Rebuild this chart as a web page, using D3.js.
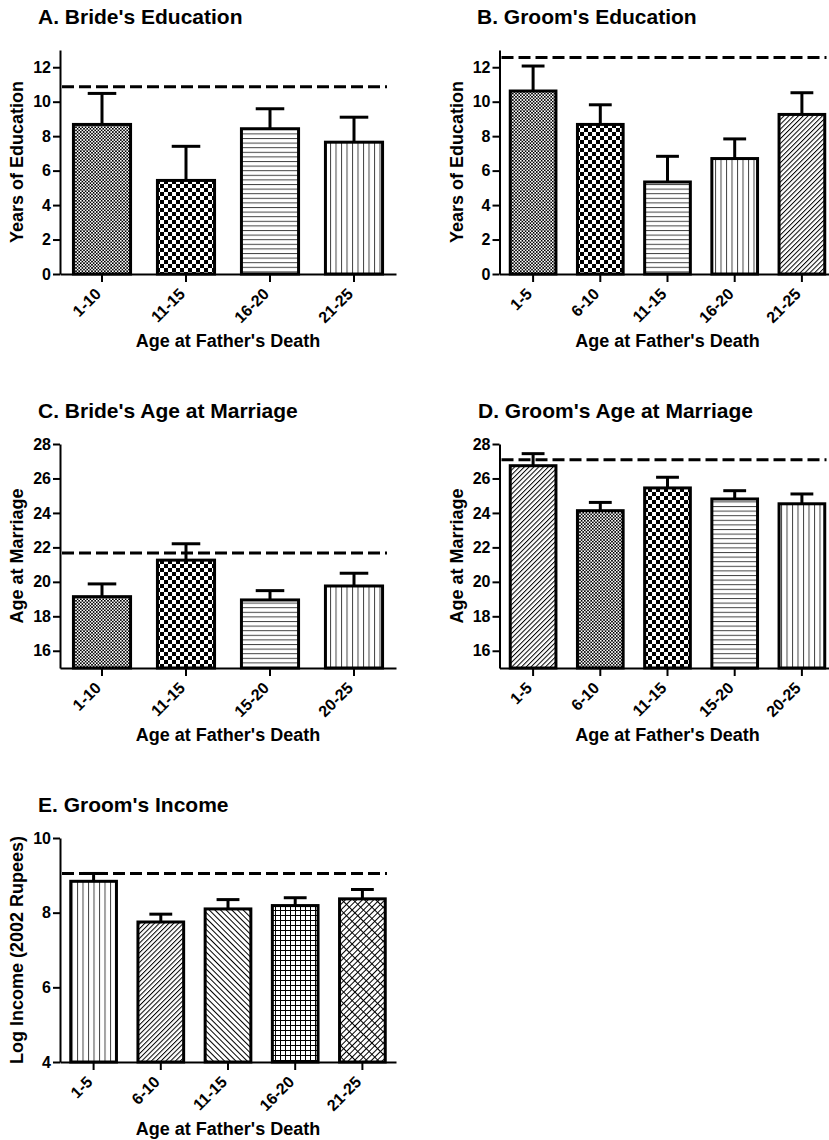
<!DOCTYPE html>
<html>
<head>
<meta charset="utf-8">
<script src="https://cdn.jsdelivr.net/npm/d3@7"></script>
<style>
  body { margin: 0; background: #fff; }
  svg text { font-family: "Liberation Sans", Arial, sans-serif; font-weight: bold; fill: #000; }
</style>
</head>
<body>
<svg id="chart" width="829" height="1140"></svg>
<script>
/* Five bar panels: outcomes by age at father's death, dashed line = comparison mean */

// A. Bride's education
const catsA = ["1-10", "11-15", "16-20", "21-25"];
const meansA = [8.68, 5.43, 8.43, 7.65];
const semA = [1.80, 1.98, 1.16, 1.45];
const refA = 10.86;

// B. Groom's education
const catsB = ["1-5", "6-10", "11-15", "16-20", "21-25"];
const meansB = [10.62, 8.68, 5.34, 6.70, 9.26];
const semB = [1.45, 1.14, 1.49, 1.14, 1.26];
const refB = 12.56;

// C. Bride's age at marriage
const catsC = ["1-10", "11-15", "15-20", "20-25"];
const meansC = [19.14, 21.26, 18.95, 19.76];
const semC = [0.74, 0.95, 0.54, 0.74];
const refC = 21.67;

// D. Groom's age at marriage
const catsD = ["1-5", "6-10", "11-15", "15-20", "20-25"];
const meansD = [26.74, 24.13, 25.45, 24.81, 24.53];
const semD = [0.70, 0.48, 0.62, 0.48, 0.57];
const refD = 27.09;

// E. Groom's income
const catsE = ["1-5", "6-10", "11-15", "16-20", "21-25"];
const meansE = [8.84, 7.75, 8.10, 8.19, 8.37];
const semE = [0.21, 0.21, 0.25, 0.21, 0.25];
const refE = 9.05;

// y tick labels
const ticksEdu = [0, 2, 4, 6, 8, 10, 12];
const ticksAge = [16, 18, 20, 22, 24, 26, 28];
const ticksInc = [4, 6, 8, 10];

const svg = d3.select("#chart");
const defs = svg.append("defs");

// hatch / checker patterns used as bar fills
function checker(id, s) {
  const p = defs.append("pattern").attr("id", id)
    .attr("patternUnits", "userSpaceOnUse").attr("width", 2 * s).attr("height", 2 * s);
  p.append("rect").attr("width", 2 * s).attr("height", 2 * s).attr("fill", "#fff");
  p.append("rect").attr("width", s).attr("height", s).attr("fill", "#000");
  p.append("rect").attr("x", s).attr("y", s).attr("width", s).attr("height", s).attr("fill", "#000");
}
function lines(id, gap, angle, color) {
  const p = defs.append("pattern").attr("id", id)
    .attr("patternUnits", "userSpaceOnUse").attr("width", gap).attr("height", 10)
    .attr("patternTransform", `rotate(${angle})`);
  p.append("rect").attr("width", gap).attr("height", 10).attr("fill", "#fff");
  p.append("line").attr("x1", 0.5).attr("x2", 0.5).attr("y1", 0).attr("y2", 10)
    .attr("stroke", color).attr("stroke-width", 1);
}
checker("fineCheck", 1.6);
checker("coarseCheck", 4);
lines("hLines", 4.6, 90, "#444");
lines("vLines", 5.5, 0, "#444");
lines("diagUp", 3.4, 45, "#000");
lines("diagDown", 4, -45, "#000");

const grid = defs.append("pattern").attr("id", "grid")
  .attr("patternUnits", "userSpaceOnUse").attr("width", 5).attr("height", 5);
grid.append("rect").attr("width", 5).attr("height", 5).attr("fill", "#fff");
grid.append("path").attr("d", "M0.5,0V5M0,0.5H5").attr("stroke", "#000").attr("stroke-width", 1);

const cross = defs.append("pattern").attr("id", "crossDiag")
  .attr("patternUnits", "userSpaceOnUse").attr("width", 4).attr("height", 8)
  .attr("patternTransform", "rotate(45)");
cross.append("rect").attr("width", 4).attr("height", 8).attr("fill", "#fff");
cross.append("path").attr("d", "M0.5,0V8M0,2.5H4").attr("stroke", "#000").attr("stroke-width", 1);

const panels = [
  { title: "A. Bride's Education", ylab: "Years of Education", cats: catsA, means: meansA, sem: semA, ref: refA,
    domain: [0, 13], ticks: ticksEdu, fills: ["fineCheck", "coarseCheck", "hLines", "vLines"], left: 60, top: 50, titleX: 38 },
  { title: "B. Groom's Education", ylab: "Years of Education", cats: catsB, means: meansB, sem: semB, ref: refB,
    domain: [0, 13], ticks: ticksEdu, fills: ["fineCheck", "coarseCheck", "hLines", "vLines", "diagUp"], left: 499.5, top: 50, titleX: 477 },
  { title: "C. Bride's Age at Marriage", ylab: "Age at Marriage", cats: catsC, means: meansC, sem: semC, ref: refC,
    domain: [15, 28], ticks: ticksAge, fills: ["fineCheck", "coarseCheck", "hLines", "vLines"], left: 60, top: 444, titleX: 38 },
  { title: "D. Groom's Age at Marriage", ylab: "Age at Marriage", cats: catsD, means: meansD, sem: semD, ref: refD,
    domain: [15, 28], ticks: ticksAge, fills: ["diagUp", "fineCheck", "coarseCheck", "hLines", "vLines"], left: 499.5, top: 444, titleX: 478 },
  { title: "E. Groom's Income", ylab: "Log Income (2002 Rupees)", cats: catsE, means: meansE, sem: semE, ref: refE,
    domain: [4, 10], ticks: ticksInc, fills: ["vLines", "diagUp", "diagDown", "grid", "crossDiag"], left: 60, top: 838, titleX: 38 }
];

const W = 336, H = 224;

panels.forEach(p => {
  const g = svg.append("g");
  const bottom = p.top + H;

  const x = d3.scaleBand()
    .domain(p.cats)
    .range([p.left, p.left + W])
    .paddingInner(0.32)
    .paddingOuter(0.16);

  const y = d3.scaleLinear()
    .domain(p.domain)
    .range([bottom, p.top]);

  // Title
  g.append("text")
    .attr("x", p.titleX)
    .attr("y", p.top - 26)
    .attr("font-size", 21)
    .text(p.title);

  // Bars
  g.selectAll(".bar")
    .data(p.means)
    .join("rect")
    .attr("x", (d, i) => x(p.cats[i]))
    .attr("y", d => y(d))
    .attr("width", x.bandwidth())
    .attr("height", d => bottom - y(d))
    .attr("fill", (d, i) => `url(#${p.fills[i]})`)
    .attr("stroke", "#000")
    .attr("stroke-width", 3);

  // Error bars (upper SEM only)
  const cap = x.bandwidth() / 4;
  p.means.forEach((m, i) => {
    const cx = x(p.cats[i]) + x.bandwidth() / 2;
    g.append("line")
      .attr("x1", cx).attr("x2", cx)
      .attr("y1", y(m)).attr("y2", y(m + p.sem[i]))
      .attr("stroke", "#000").attr("stroke-width", 3);
    g.append("line")
      .attr("x1", cx - cap).attr("x2", cx + cap)
      .attr("y1", y(m + p.sem[i])).attr("y2", y(m + p.sem[i]))
      .attr("stroke", "#000").attr("stroke-width", 3);
  });

  // Reference line
  g.append("line")
    .attr("x1", p.left + 2).attr("x2", p.left + W - 9)
    .attr("y1", y(p.ref)).attr("y2", y(p.ref))
    .attr("stroke", "#000")
    .attr("stroke-width", 3)
    .attr("stroke-dasharray", "12,5");

  // Y axis
  g.append("g")
    .attr("transform", `translate(${p.left}, 0)`)
    .call(d3.axisLeft(y).tickValues(p.ticks).tickFormat(d3.format("d"))
      .tickSize(7).tickPadding(2).tickSizeOuter(0))
    .call(a => a.selectAll("line, path").attr("stroke", "#000").attr("stroke-width", 2))
    .call(a => a.selectAll("text").attr("font-size", 16).attr("font-family", null));

  // X axis
  g.append("g")
    .attr("transform", `translate(0, ${bottom})`)
    .call(d3.axisBottom(x).tickSize(8).tickSizeOuter(0))
    .call(a => a.selectAll("line, path").attr("stroke", "#000").attr("stroke-width", 2))
    .call(a => a.selectAll("text").remove());

  g.selectAll(".xlab")
    .data(p.cats)
    .join("text")
    .attr("transform", d => `translate(${x(d) + x.bandwidth() / 2}, ${bottom + 21}) rotate(-45)`)
    .attr("text-anchor", "end")
    .attr("font-size", 16)
    .text(d => d);

  // Axis titles
  g.append("text")
    .attr("transform", `translate(${p.left - 37}, ${p.top + H / 2}) rotate(-90)`)
    .attr("text-anchor", "middle")
    .attr("font-size", 18)
    .text(p.ylab);

  g.append("text")
    .attr("x", p.left + W / 2)
    .attr("y", bottom + 73)
    .attr("text-anchor", "middle")
    .attr("font-size", 18)
    .text("Age at Father's Death");
});
</script>
</body>
</html>
